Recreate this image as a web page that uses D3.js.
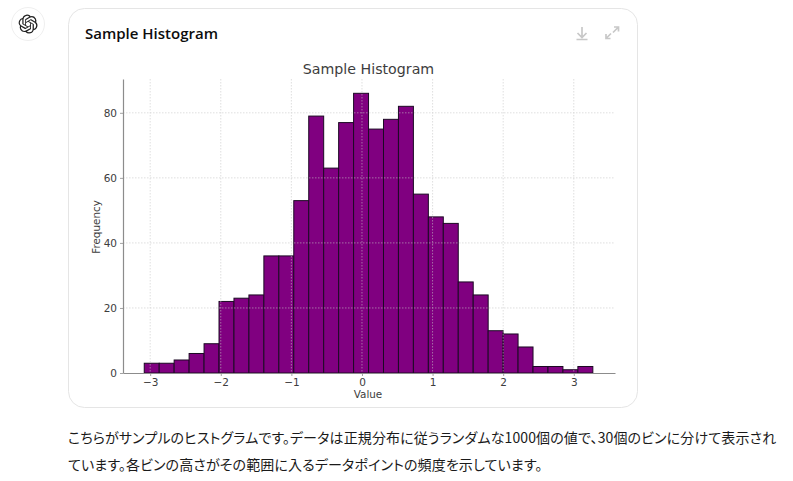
<!DOCTYPE html>
<html>
<head>
<meta charset="utf-8">
<script src="https://cdn.jsdelivr.net/npm/d3@7"></script>
<style>
html, body { margin: 0; padding: 0; background: #fff; overflow: hidden; }
text { font-family: "DejaVu Sans", sans-serif; }
.jp { font-family: "Noto Sans CJK JP", sans-serif; font-size: 14px; letter-spacing: 0.13px; fill: #1a1a1a; font-feature-settings: "palt"; }
</style>
</head>
<body>
<div id="chart"></div>
<script>
var counts = [3, 3, 4, 6, 9, 22, 23, 24, 36, 36, 53, 79, 63, 77, 86, 75, 78, 82, 55, 48, 46, 28, 24, 13, 12, 8, 2, 2, 1, 2];
var binStart = -3.084;
var binWidth = 0.2118;
var xTicks = [-3, -2, -1, 0, 1, 2, 3];
var yTicks = [0, 20, 40, 60, 80];
var chartTitle = 'Sample Histogram';
var xLabel = 'Value';
var yLabel = 'Frequency';
var textLines = [
    'こちらがサンプルのヒストグラムです。データは正規分布に従うランダムな1000個の値で、30個のビンに分けて表示され',
    'ています。各ビンの高さがその範囲に入るデータポイントの頻度を示しています。'
];

var width = 793, height = 481;
var margin = {top: 79, right: 178, bottom: 108, left: 123};

var svg = d3.select('#chart').append('svg')
    .attr('width', width)
    .attr('height', height)
    .style('display', 'block');

// avatar
svg.append('circle')
    .attr('cx', 28).attr('cy', 24).attr('r', 16.5)
    .attr('fill', '#fff').attr('stroke', '#efefef');
svg.append('path')
    .attr('transform', 'translate(18.6,14.6) scale(0.79)')
    .attr('fill', '#222')
    .attr('d', 'M22.2819 9.8211a5.9847 5.9847 0 0 0-.5157-4.9108 6.0462 6.0462 0 0 0-6.5098-2.9A6.0651 6.0651 0 0 0 4.9807 4.1818a5.9847 5.9847 0 0 0-3.9977 2.9 6.0462 6.0462 0 0 0 .7427 7.0966 5.98 5.98 0 0 0 .511 4.9107 6.051 6.051 0 0 0 6.5146 2.9001A5.9847 5.9847 0 0 0 13.2599 24a6.0557 6.0557 0 0 0 5.7718-4.2058 5.9894 5.9894 0 0 0 3.9977-2.9001 6.0557 6.0557 0 0 0-.7475-7.0729zm-9.022 12.6081a4.4755 4.4755 0 0 1-2.8764-1.0408l.1419-.0804 4.7783-2.7582a.7948.7948 0 0 0 .3927-.6813v-6.7369l2.02 1.1686a.071.071 0 0 1 .038.052v5.5826a4.504 4.504 0 0 1-4.4945 4.4944zm-9.6607-4.1254a4.4708 4.4708 0 0 1-.5346-3.0137l.142.0852 4.783 2.7582a.7712.7712 0 0 0 .7806 0l5.8428-3.3685v2.3324a.0804.0804 0 0 1-.0332.0615L9.74 19.9502a4.4992 4.4992 0 0 1-6.1408-1.6464zM2.3408 7.8956a4.485 4.485 0 0 1 2.3655-1.9728V11.6a.7664.7664 0 0 0 .3879.6765l5.8144 3.3543-2.0201 1.1685a.0757.0757 0 0 1-.071 0l-4.8303-2.7865A4.504 4.504 0 0 1 2.3408 7.872zm16.5963 3.8558L13.1038 8.364 15.1192 7.2a.0757.0757 0 0 1 .071 0l4.8303 2.7913a4.4944 4.4944 0 0 1-.6765 8.1042v-5.6772a.79.79 0 0 0-.407-.667zm2.0107-3.0231l-.142-.0852-4.7735-2.7818a.7759.7759 0 0 0-.7854 0L9.409 9.2297V6.8974a.0662.0662 0 0 1 .0284-.0615l4.8303-2.7866a4.4992 4.4992 0 0 1 6.6802 4.66zM8.3065 12.863l-2.02-1.1638a.0804.0804 0 0 1-.038-.0567V6.0742a4.4992 4.4992 0 0 1 7.3757-3.4537l-.142.0805L8.704 5.459a.7948.7948 0 0 0-.3927.6813zm1.0976-2.3654l2.602-1.4998 2.6069 1.4998v2.9994l-2.5974 1.4997-2.6067-1.4997Z');

// card
svg.append('rect')
    .attr('x', 68.5).attr('y', 8.5)
    .attr('width', 569).attr('height', 399)
    .attr('rx', 16)
    .attr('fill', '#fff').attr('stroke', '#e5e5e5');
svg.append('text')
    .text(chartTitle)
    .attr('x', 85).attr('y', 39)
    .attr('font-size', 15)
    .attr('font-weight', 600)
    .attr('fill', '#0d0d0d')
    .style('font-family', '"Open Sans", sans-serif');

// download + expand icons
var icons = svg.append('g')
    .attr('fill', 'none').attr('stroke', '#c8c8c8').attr('stroke-width', 1.7);
icons.append('path').attr('d', 'M582 27V37M577.5 33L582 37.5L586.5 33M576.5 39.5H587.5');
icons.append('path').attr('d', 'M613 32.5L618.5 27M614 27H618.5V31.5M611 33.5L606 38.5M606 34V38.5H610.5');

var x = d3.scaleLinear()
    .domain([-3.385, 3.584])
    .range([margin.left, width - margin.right]);
var y = d3.scaleLinear()
    .domain([0, 90.4])
    .range([height - margin.bottom, margin.top]);
var plotBottom = y(0);

svg.append('text')
    .text(chartTitle)
    .attr('x', 368.5)
    .attr('y', 74)
    .attr('text-anchor', 'middle')
    .attr('font-size', 14.2)
    .attr('fill', '#3d3d3d');

// bars
svg.append('g').selectAll('rect')
    .data(counts)
    .enter().append('rect')
    .attr('x', function (d, i) { return x(binStart + i * binWidth); })
    .attr('y', function (d) { return y(d); })
    .attr('width', x(binWidth) - x(0))
    .attr('height', function (d) { return plotBottom - y(d); })
    .attr('fill', 'purple')
    .attr('stroke', '#1c0a24')
    .attr('stroke-width', 1);

// grid goes over the bars
var grid = svg.append('g')
    .attr('stroke', '#c8c8c8')
    .attr('stroke-width', 0.8)
    .attr('stroke-dasharray', '1.5,1.5')
    .attr('opacity', 0.7);
grid.selectAll('.gx').data(xTicks).enter().append('line')
    .attr('x1', function (d) { return x(d); })
    .attr('x2', function (d) { return x(d); })
    .attr('y1', y.range()[1]).attr('y2', y.range()[0]);
grid.selectAll('.gy').data(yTicks.slice(1)).enter().append('line')
    .attr('x1', x.range()[0]).attr('x2', x.range()[1])
    .attr('y1', function (d) { return y(d); })
    .attr('y2', function (d) { return y(d); });

// axes
var xAxis = svg.append('g')
    .attr('transform', 'translate(0,' + plotBottom + ')')
    .call(d3.axisBottom(x).tickValues(xTicks).tickFormat(d3.format('d')).tickSize(3).tickPadding(3).tickSizeOuter(0));
var yAxis = svg.append('g')
    .attr('transform', 'translate(' + margin.left + ',0)')
    .call(d3.axisLeft(y).tickValues(yTicks).tickFormat(d3.format('d')).tickSize(3).tickPadding(3).tickSizeOuter(0));
[xAxis, yAxis].forEach(function (axis) {
    axis.selectAll('.domain').attr('stroke', '#8c8c8c').attr('stroke-width', 1.2);
    axis.selectAll('.tick line').attr('stroke', '#8c8c8c').attr('stroke-width', 0.8);
    axis.selectAll('text').attr('fill', '#3d3d3d').attr('font-size', 10.5)
        .style('font-family', '"DejaVu Sans", sans-serif');
});

svg.append('text')
    .text(xLabel)
    .attr('x', 368).attr('y', 398)
    .attr('text-anchor', 'middle')
    .attr('font-size', 10.4)
    .attr('fill', '#3d3d3d');
svg.append('text')
    .text(yLabel)
    .attr('transform', 'translate(100,227) rotate(-90)')
    .attr('text-anchor', 'middle')
    .attr('font-size', 10.4)
    .attr('fill', '#3d3d3d');

// text under the card
svg.selectAll('.jp').data(textLines).enter().append('text')
    .attr('class', 'jp')
    .attr('x', 68)
    .attr('y', function (d, i) { return 443 + i * 27; })
    .text(function (d) { return d; });
</script>
</body>
</html>
